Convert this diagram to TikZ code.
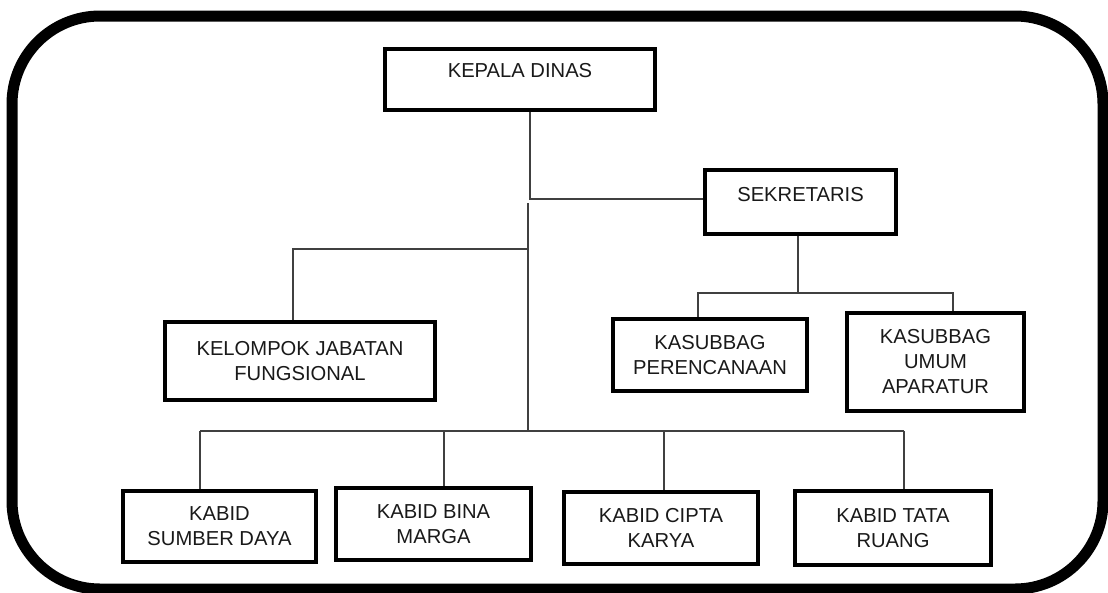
\documentclass[tikz,border=0pt]{standalone}
\usepackage{fontspec}
\setmainfont{Liberation Sans}
\begin{document}
\begin{tikzpicture}[x=1pt,y=-1pt,
  orgbox/.style={draw=black, line width=4.5pt, rectangle, inner sep=0pt, align=center,
    font=\fontsize{20.2}{25}\selectfont, text=black!90},
  link/.style={draw=black!75, line width=1.8pt},
  frame/.style={draw=black, line width=11pt, rounded corners=88pt}]
\useasboundingbox (0,0) rectangle (1108,592);
\draw[frame] (12,16) rectangle (1103,589);

\node[orgbox, minimum width=270pt, minimum height=61pt, text height=14.5pt, text depth=19pt] (kd) at (520,79.5) {KEPALA DINAS};
\node[orgbox, minimum width=191pt, minimum height=64pt, text height=14.5pt, text depth=16pt] (sek) at (800.5,202) {SEKRETARIS};
\node[orgbox, minimum width=270pt, minimum height=78pt] (kjf) at (300,361) {KELOMPOK JABATAN\\FUNGSIONAL};
\node[orgbox, minimum width=194pt, minimum height=72pt] (kper) at (710,355) {KASUBBAG\\PERENCANAAN};
\node[orgbox, minimum width=177pt, minimum height=98pt] (kum) at (935.5,362) {KASUBBAG\\UMUM\\APARATUR};
\node[orgbox, minimum width=193pt, minimum height=71pt] (ksd) at (219.5,526.5) {KABID\\SUMBER DAYA};
\node[orgbox, minimum width=195pt, minimum height=72pt] (kbm) at (433.5,524) {KABID BINA\\MARGA};
\node[orgbox, minimum width=194pt, minimum height=72pt] (kck) at (661,528) {KABID CIPTA\\KARYA};
\node[orgbox, minimum width=196pt, minimum height=74pt] (ktr) at (893,528) {KABID TATA\\RUANG};

\coordinate (j1) at (530,199);
\coordinate (vtop) at (528,203);
\coordinate (vkjf) at (528,249);
\coordinate (bus) at (528,431);
\coordinate (sekbus) at (798,293);
\coordinate (busL) at (200,431);
\coordinate (busR) at (904,431);

% Kepala Dinas to Sekretaris
\draw[link] (kd.south -| j1) -- (j1) -- (j1 -| sek.west);
% main trunk
\draw[link] (vtop) -- (bus);
% Kelompok Jabatan Fungsional
\draw[link] (vkjf) -| (kjf.north -| 293,0);
% Sekretaris branch
\draw[link] (sek.south -| sekbus) -- (sekbus);
\draw[link] (kper.north -| 698,0) |- (sekbus) -| (kum.north -| 953,0);
% Kabid bus
\draw[link] (busL) -- (busR);
\draw[link] (busL) -- (ksd.north -| busL);
\draw[link] (bus -| 444,0) -- (kbm.north -| 444,0);
\draw[link] (bus -| 664,0) -- (kck.north -| 664,0);
\draw[link] (busR) -- (ktr.north -| busR);
\end{tikzpicture}
\end{document}
